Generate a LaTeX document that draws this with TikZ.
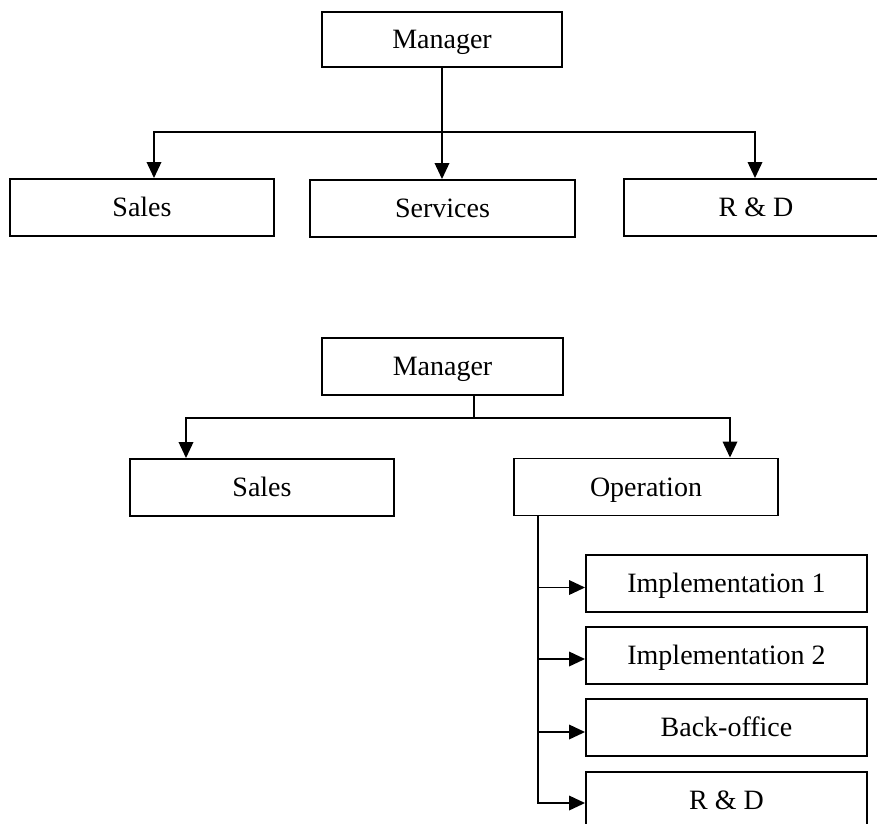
\documentclass[tikz,border=0pt]{standalone}
\usepackage{fontspec}
\setmainfont{Liberation Serif}
\usetikzlibrary{arrows.meta}
\tikzset{
  box/.style={draw, line width=1.9pt, inner sep=0pt, minimum width=264pt, minimum height=57pt,
    font=\fontsize{28}{32}\selectfont, text height=18.5pt, text depth=0pt},
  conn/.style={line width=1.9pt},
  arr/.style={conn, -{Triangle[length=16pt,width=14.5pt]}}
}
\begin{document}
\begin{tikzpicture}[x=1pt,y=-1pt]
\useasboundingbox (0,0) rectangle (877,823);
% top chart
\node[box, minimum width=240pt, minimum height=55pt] (m1) at (442,39.5) {Manager};
\node[box] (s1) at (142,207.5) {Sales};
\node[box, minimum width=265pt] (sv) at (442.5,208.5) {Services};
\node[box] (rd1) at (756,207.5) {R \& D};
\coordinate (b1) at (442,132);
\coordinate (xs1) at (154,0);
\coordinate (xr1) at (755,0);
\draw[arr] (m1.south) -- (sv.north -| m1.south);
\draw[arr] (b1) -| (xs1 |- s1.north);
\draw[arr] (b1) -| (xr1 |- rd1.north);
% bottom chart
\node[box, minimum width=241pt] (m2) at (442.5,366.5) {Manager};
\node[box] (s2) at (262,487.5) {Sales};
\node[box] (op) at (646,487) {Operation};
\node[box, minimum width=281pt] (i1) at (726.5,583.5) {Implementation 1};
\node[box, minimum width=281pt] (i2) at (726.5,655.5) {Implementation 2};
\node[box, minimum width=281pt] (bo) at (726.5,727.5) {Back-office};
\node[box, minimum width=281pt] (rd2) at (726.5,800.5) {R \& D};
\coordinate (b2) at (474,418);
\coordinate (xs2) at (186,0);
\coordinate (xo2) at (730,0);
\draw[conn] (m2.south -| b2) -- (b2);
\draw[arr] (b2) -| (xs2 |- s2.north);
\draw[arr] (b2) -| (xo2 |- op.north);
\coordinate (t) at (538,0);
\draw[arr] (t |- op.south) |- ([yshift=-4pt]i1.west);
\draw[arr] (t |- op.south) |- ([yshift=-3.5pt]i2.west);
\draw[arr] (t |- op.south) |- ([yshift=-4.5pt]bo.west);
\draw[arr] (t |- op.south) |- ([yshift=-2.5pt]rd2.west);
\end{tikzpicture}
\end{document}
